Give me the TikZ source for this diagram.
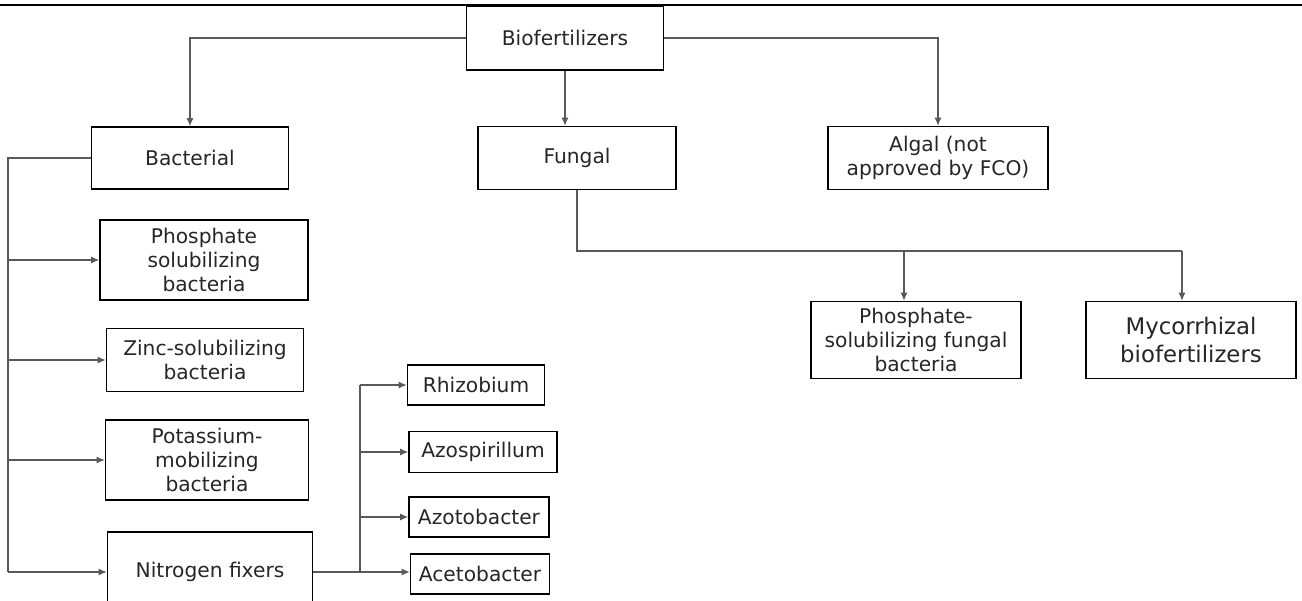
\documentclass[tikz,border=0pt]{standalone}
\usepackage{fontspec}
\setmainfont{DejaVu Sans}
\usepackage{tikz}
\usetikzlibrary{arrows.meta}

\begin{document}
\begin{tikzpicture}[x=0.02cm,y=-0.02cm,
  link/.style={draw=black!65,line width=0.6pt},
  arr/.style={link,-{Latex[length=4.5pt,width=4pt]}}]
\useasboundingbox (0,0) rectangle (1302,600);

\draw[line width=1pt] (0,5) -- (1302,5);

\begin{scope}[every node/.style={draw,line width=1pt,align=center,inner sep=1pt,
  text=black!85,font=\fontsize{11.5}{13.5}\selectfont}]

\node[minimum width=3.94cm,minimum height=1.28cm] (bio) at (565,38) {Biofertilizers};

\node[minimum width=3.94cm,minimum height=1.24cm] (bact) at (190,158) {Bacterial};
\node[minimum width=3.96cm,minimum height=1.26cm] (fung) at (577,158) {Fungal};
\node[minimum width=4.4cm,minimum height=1.26cm] (alg) at (938,158) {Algal (not\\approved by FCO)};

\node[minimum width=4.16cm,minimum height=1.6cm] (psb) at (204,260) {Phosphate\\solubilizing\\bacteria};
\node[minimum width=3.94cm,minimum height=1.26cm] (zsb) at (205,360) {Zinc-solubilizing\\bacteria};
\node[minimum width=4.06cm,minimum height=1.6cm] (kmb) at (207,460) {Potassium-\\mobilizing\\bacteria};
\node[minimum width=4.1cm,minimum height=1.6cm] (nfix) at (210,572) {Nitrogen fixers};

\node[minimum width=2.74cm,minimum height=0.8cm] (rhiz) at (476,385) {Rhizobium};
\node[minimum width=2.96cm,minimum height=0.82cm] (azsp) at (483,452) {Azospirillum};
\node[minimum width=2.8cm,minimum height=0.8cm] (azot) at (479,517) {Azotobacter};
\node[minimum width=2.78cm,minimum height=0.8cm] (acet) at (480,574) {Acetobacter};

\node[minimum width=4.2cm,minimum height=1.54cm] (psf) at (916,340) {Phosphate-\\solubilizing fungal\\bacteria};
\node[minimum width=4.2cm,minimum height=1.54cm,font=\fontsize{13}{15.5}\selectfont] (myc) at (1191,340) {Mycorrhizal\\biofertilizers};

\end{scope}

\coordinate (bl) at (8,0);
\coordinate (nb) at (360,0);
\coordinate (fb) at (0,251);
\coordinate (pa) at ([xshift=-0.24cm]psf.north);
\coordinate (ma) at ([xshift=-0.18cm]myc.north);

% top level
\draw[arr] (bio.west) -| (bact.north);
\draw[arr] (bio.south) -- (bio.south |- fung.north);
\draw[arr] (bio.east) -| (alg.north);

% bacterial branch
\draw[link] (bact.west) -| (bl |- nfix.west);
\foreach \n in {psb,zsb,kmb,nfix}
  \draw[arr] (bl |- \n.west) -- (\n.west);

% nitrogen fixers
\draw[link] (nfix.east) -- (nb |- nfix.east);
\draw[link] (nb |- rhiz.west) -- (nb |- nfix.east);
\foreach \n in {rhiz,azsp,azot}
  \draw[arr] (nb |- \n.west) -- (\n.west);
\draw[arr] (nb |- nfix.east) -- (acet.west |- nfix.east);

% fungal branch
\draw[link] (fung.south) |- (ma |- fb);
\draw[arr] (pa |- fb) -- (pa);
\draw[arr] (ma |- fb) -- (ma);

\end{tikzpicture}
\end{document}
